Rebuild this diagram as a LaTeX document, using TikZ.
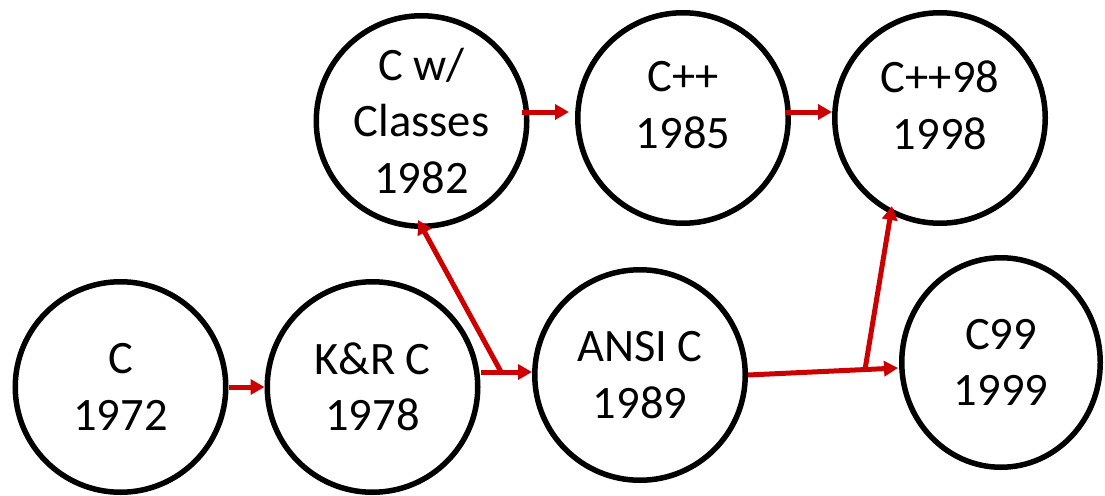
\documentclass[tikz,border=0pt]{standalone}
\usepackage{fontspec}
\setmainfont{Carlito}
\usetikzlibrary{arrows.meta,calc,shapes.geometric}
\definecolor{linkred}{RGB}{204,0,0}
\begin{document}
\begin{tikzpicture}[x=1pt,y=-1pt,
  bub/.style={circle, draw=black, line width=5.5pt, minimum size=210.5pt,
    inner sep=0pt, align=center, font=\fontsize{46.5}{56.5}\selectfont},
  arr/.style={draw=linkred, line width=5pt, -{Triangle[length=14pt,width=15pt]}}]
\useasboundingbox (0,0) rectangle (1105,495);

% language versions
\node[bub] (c)     at (120.5,387) {C\\1972};
\node[bub] (kr)    at (372.5,387) {K\&R C\\1978};
\node[bub] (cwc)   at (421.5,121) {C w/\\Classes\\1982};
\node[bub, text depth=26pt] (cpp)   at (683,118) {C++\\1985};
\node[bub, text depth=26pt] (cpp98) at (940,118) {C++98\\1998};
\node[bub] (ansi)  at (640,375) {ANSI C\\1989};
\node[bub, ellipse, minimum width=198.5pt, minimum height=209.5pt] (c99) at (1001,362.5) {C99\\1999};

% lineage
\draw[arr] (c) -- (kr);
\draw[arr] ($(kr.east)+(0,-15)$) -- coordinate[pos=0.4] (krfork) ($(ansi.west)+(0,-3)$);
\draw[arr] (krfork) -- ($(cwc.south)+(-3.5,-9)$);
\draw[arr] ($(cwc.east)+(-8,-9)$) -- ($(cpp.west)+(-6,-6)$);
\draw[arr] ($(cpp.east)+(-6,-6)$) -- ($(cpp98.west)+(0,-6)$);
\draw[arr] (ansi.east) -- coordinate[pos=0.78] (ansifork) ($(c99.west)+(-1,5.5)$);
\draw[arr] (ansifork) -- ($(cpp98.center)+(-48,88)$);
\end{tikzpicture}
\end{document}
